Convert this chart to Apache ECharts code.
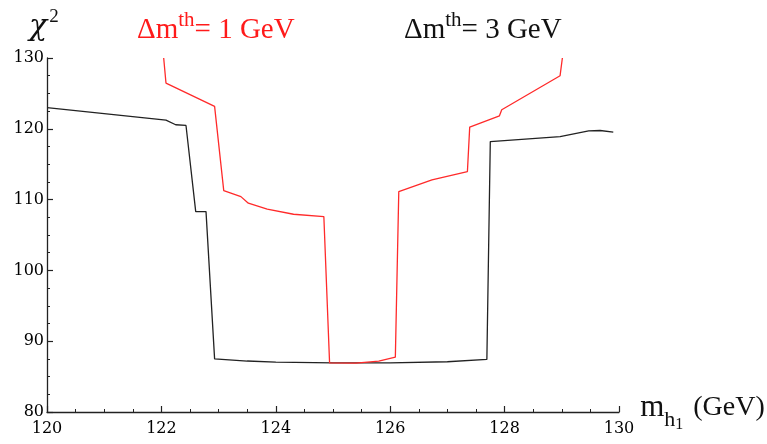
<!DOCTYPE html>
<html>
<head>
<meta charset="utf-8">
<script src="https://cdn.jsdelivr.net/npm/echarts@6/dist/echarts.min.js"></script>
<style>
  html, body { margin: 0; padding: 0; background: #fff; }
  #main { width: 767px; height: 444px; }
</style>
</head>
<body>
<div id="main"></div>
<script>
// 数据：两条 chi^2 曲线 (Δm^th = 3 GeV 黑, 1 GeV 红)
const blackX = [120, 122.08, 122.25, 122.43, 122.6, 122.78, 122.93, 123.5, 124, 125, 126, 127, 127.69, 127.75, 128.97, 129.47, 129.67, 129.9];
const blackY = [123.0, 121.23, 120.57, 120.47, 108.3, 108.3, 87.5, 87.2, 87.05, 86.95, 86.95, 87.1, 87.43, 118.2, 118.9, 119.7, 119.76, 119.53];

const redX = [122.04, 122.08, 122.93, 123.09, 123.39, 123.52, 123.85, 124.31, 124.84, 124.94, 125.4, 125.8, 126.09, 126.15, 126.73, 127.35, 127.39, 127.91, 127.95, 128.97, 129.01];
const redY = [130, 126.46, 123.16, 111.27, 110.42, 109.49, 108.64, 107.93, 107.6, 86.95, 86.9, 87.2, 87.75, 111.13, 112.8, 113.96, 120.24, 121.84, 122.69, 127.5, 130];

const xTicks = [120, 122, 124, 126, 128, 130];
const yTicks = [80, 90, 100, 110, 120, 130];

const pairs = (xs, ys) => xs.map((x, i) => [x, ys[i]]);

const chart = echarts.init(document.getElementById('main'));

const serif = 'Liberation Serif';
const tickFont = 'DejaVu Serif';

const axisCommon = {
    axisLine: { show: true, lineStyle: { color: '#222', width: 1.3 } },
    axisTick: { show: true, inside: true, length: 6, lineStyle: { color: '#222', width: 1.2 } },
    minorTick: { show: true, splitNumber: 4, length: 3, lineStyle: { color: '#222', width: 1 } },
    splitLine: { show: false },
    axisLabel: { color: '#000', fontFamily: tickFont, fontSize: 16 }
};

const option = {
    backgroundColor: '#fff',
    animation: false,
    grid: { left: 47, right: 148, top: 58, bottom: 32, containLabel: false, outerBoundsMode: 'none' },
    xAxis: Object.assign({}, axisCommon, {
        type: 'value',
        min: xTicks[0],
        max: xTicks[xTicks.length - 1],
        interval: 2,
        axisLabel: Object.assign({}, axisCommon.axisLabel, { margin: 9 }),
        name: '{m|m}{sub|h}{sub2|1}{u|(GeV)}',
        nameLocation: 'end',
        nameGap: -11,
        nameTextStyle: {
            rich: {
                m: { fontFamily: serif, fontSize: 31, color: '#111', padding: [0, 0, 8, 0] },
                sub: { fontFamily: serif, fontSize: 22, color: '#111', padding: [16, 0, 0, 0] },
                sub2: { fontFamily: serif, fontSize: 16, color: '#111', padding: [26, 0, 0, 0] },
                u: { fontFamily: serif, fontSize: 28, color: '#111', padding: [0, 0, 8, 10] }
            }
        }
    }),
    yAxis: Object.assign({}, axisCommon, {
        type: 'value',
        min: yTicks[0],
        max: yTicks[yTicks.length - 1],
        interval: 10,
        axisLabel: Object.assign({}, axisCommon.axisLabel, { margin: 3 })
    }),
    graphic: [
        {
            type: 'text', left: 29, top: 8,
            style: {
                text: '{c|χ}{s|2}',
                rich: {
                    c: { fontFamily: 'DejaVu Serif', fontSize: 30, fontStyle: 'italic', fill: '#111' },
                    s: { fontFamily: serif, fontSize: 19, fill: '#111', padding: [0, 0, 20, 2] }
                }
            }
        },
        {
            type: 'text', left: 137, top: 10,
            style: {
                text: '{a|Δm}{s|th}{a|= 1 GeV}',
                rich: {
                    a: { fontFamily: serif, fontSize: 29, fill: '#ff1a1a' },
                    s: { fontFamily: serif, fontSize: 21, fill: '#ff1a1a', padding: [0, 0, 20, 0] }
                }
            }
        },
        {
            type: 'text', left: 404, top: 10,
            style: {
                text: '{a|Δm}{s|th}{a|= 3 GeV}',
                rich: {
                    a: { fontFamily: serif, fontSize: 29, fill: '#111' },
                    s: { fontFamily: serif, fontSize: 21, fill: '#111', padding: [0, 0, 20, 0] }
                }
            }
        }
    ],
    series: [
        {
            type: 'line',
            data: pairs(blackX, blackY),
            showSymbol: false,
            lineStyle: { color: '#222', width: 1.3 },
            clip: true
        },
        {
            type: 'line',
            data: pairs(redX, redY),
            showSymbol: false,
            lineStyle: { color: '#ff2a2a', width: 1.3 },
            clip: true
        }
    ]
};

option && chart.setOption(option);
</script>
</body>
</html>
